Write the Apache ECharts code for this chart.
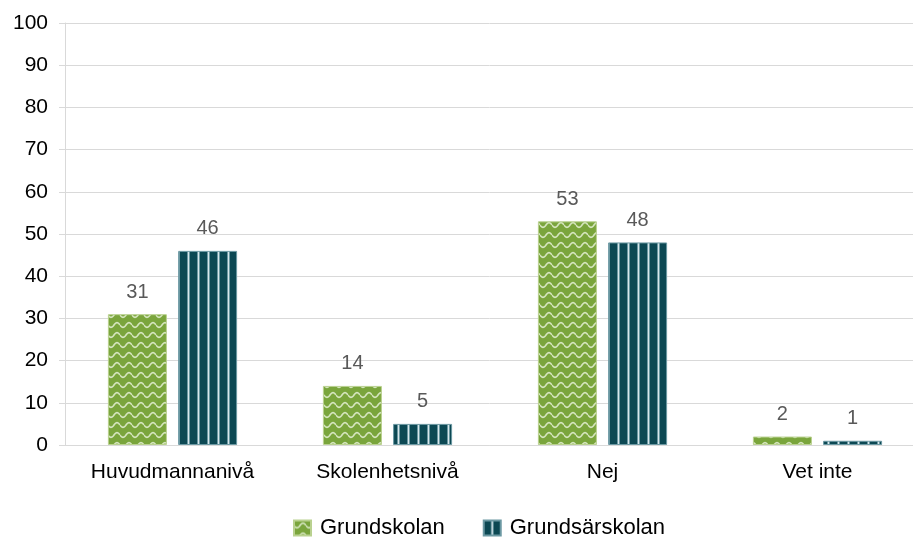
<!DOCTYPE html>
<html>
<head>
<meta charset="utf-8">
<script src="https://cdn.jsdelivr.net/npm/echarts@6/dist/echarts.min.js"></script>
<style>
  html, body { margin: 0; padding: 0; background: #fff; }
  #chart { width: 913px; height: 540px; }
</style>
</head>
<body>
<div id="chart"></div>
<script>
const categories = ["Huvudmannanivå", "Skolenhetsnivå", "Nej", "Vet inte"];
const grundskolan = [31, 14, 53, 2];
const grundsarskolan = [46, 5, 48, 1];

// wavy green tile
function wavePattern() {
  const c = document.createElement("canvas");
  c.width = 12; c.height = 10;
  const ctx = c.getContext("2d");
  ctx.fillStyle = "#7aa53c";
  ctx.fillRect(0, 0, 12, 10);
  ctx.strokeStyle = "#d4e4bd";
  ctx.lineWidth = 1.6;
  ctx.beginPath();
  for (let x = 0; x <= 12; x += 0.5) {
    const y = 5 + 2.4 * Math.sin((x / 12) * Math.PI * 2);
    if (x === 0) ctx.moveTo(x, y); else ctx.lineTo(x, y);
  }
  ctx.stroke();
  return c;
}

// dark teal with vertical light stripes
function stripePattern() {
  const c = document.createElement("canvas");
  c.width = 10; c.height = 4;
  const ctx = c.getContext("2d");
  ctx.fillStyle = "#0c4853";
  ctx.fillRect(0, 0, 10, 4);
  ctx.fillStyle = "#6b98a2";
  ctx.fillRect(7, 0, 3, 4);
  ctx.fillStyle = "#d6e6ea";
  ctx.fillRect(8, 0, 1, 4);
  return c;
}

const chart = echarts.init(document.getElementById("chart"));
const labelStyle = {
  show: true,
  position: "top",
  distance: 12,
  color: "#595959",
  fontSize: 20,
  fontFamily: "Liberation Sans, Arial, sans-serif"
};

chart.setOption({
  animation: false,
  textStyle: { fontFamily: "Liberation Sans, Arial, sans-serif" },
  grid: { left: 65, width: 860, top: 23, bottom: 95, outerBoundsMode: "none", containLabel: false },
  legend: {
    bottom: -4,
    left: 288,
    itemWidth: 17,
    itemHeight: 15,
    itemGap: 38,
    icon: "rect",
    textStyle: { fontSize: 22, color: "#000", padding: [0, 0, 0, 4] },
    data: ["Grundskolan", "Grundsärskolan"]
  },
  xAxis: {
    type: "category",
    data: categories,
    axisTick: { show: false },
    axisLine: { lineStyle: { color: "#d9d9d9", width: 1 } },
    axisLabel: { color: "#000", fontSize: 21, margin: 17 }
  },
  yAxis: {
    type: "value",
    min: 0,
    max: 100,
    interval: 10,
    axisLine: { show: true, lineStyle: { color: "#d9d9d9" } },
    axisTick: { show: true, length: 6, lineStyle: { color: "#d9d9d9" } },
    axisLabel: { color: "#000", fontSize: 21, margin: 17 },
    splitLine: { lineStyle: { color: "#d9d9d9", width: 1 } }
  },
  series: [
    {
      name: "Grundskolan",
      type: "bar",
      data: grundskolan,
      barWidth: 59,
      barGap: "19%",
      itemStyle: { color: { image: wavePattern(), repeat: "repeat" }, borderColor: "#b9d18f", borderWidth: 1 },
      label: labelStyle
    },
    {
      name: "Grundsärskolan",
      type: "bar",
      data: grundsarskolan,
      barWidth: 59,
      itemStyle: { color: { image: stripePattern(), repeat: "repeat" }, borderColor: "#6b98a2", borderWidth: 1 },
      label: labelStyle
    }
  ]
});
</script>
</body>
</html>
